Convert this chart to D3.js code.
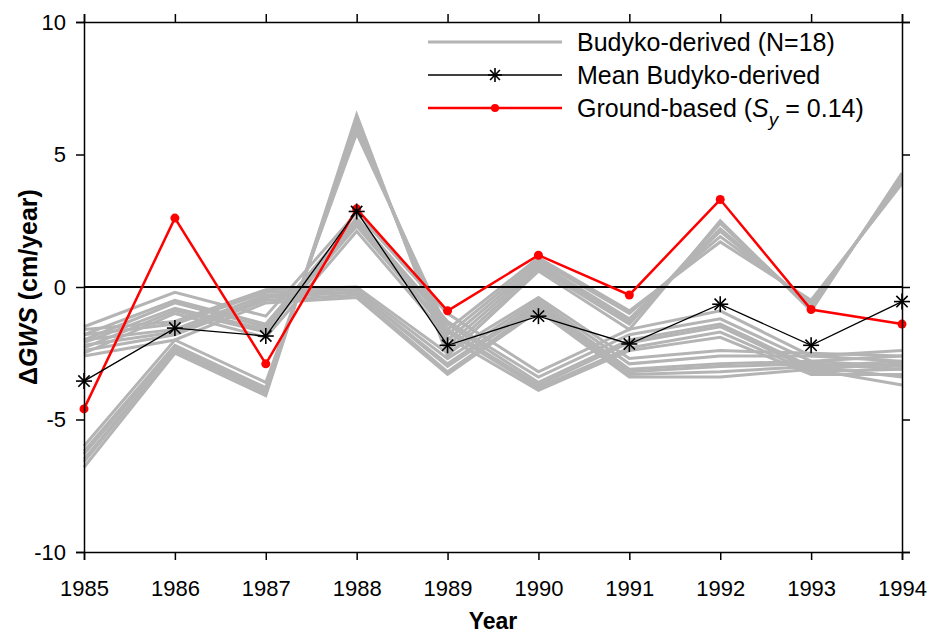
<!DOCTYPE html>
<html>
<head>
<meta charset="utf-8">
<script src="https://cdn.jsdelivr.net/npm/d3@7"></script>
<style>
  html, body { margin: 0; padding: 0; background: #fff; }
  svg { display: block; font-family: "Liberation Sans", Arial, sans-serif; }
</style>
</head>
<body>
<svg id="chart" width="931" height="637"></svg>
<script>
// Years on the x axis
const years = [1985, 1986, 1987, 1988, 1989, 1990, 1991, 1992, 1993, 1994];

// Budyko-derived groundwater storage change, one array per parameter set (cm/year)
const budyko01 = [-6.8, -2.5, -4.1, 6.5, -2.6, 0.6, -1.6, 2.5, -0.9, 4.3];
const budyko02 = [-6.6, -2.4, -4.0, 6.3, -2.4, 0.7, -1.4, 2.4, -0.8, 4.2];
const budyko03 = [-6.5, -2.4, -3.9, 6.2, -2.2, 0.8, -1.3, 2.2, -0.7, 4.1];
const budyko04 = [-6.3, -2.3, -3.9, 6.1, -2.0, 0.9, -1.2, 2.1, -0.7, 4.1];
const budyko05 = [-6.2, -2.2, -3.8, 6.0, -1.8, 1.0, -1.0, 1.9, -0.6, 4.0];
const budyko06 = [-6.0, -2.0, -3.6, 5.8, -1.6, 1.1, -0.9, 1.7, -0.5, 3.9];
const budyko07 = [-1.5, -0.2, -1.1, 2.8, -1.0, -3.2, -1.6, -0.9, -2.6, -2.4];
const budyko08 = [-1.8, -0.5, -1.4, 2.6, -1.3, -3.4, -1.8, -1.2, -2.8, -2.6];
const budyko09 = [-2.0, -0.6, -1.5, 2.5, -1.4, -3.6, -2.0, -1.4, -3.0, -2.8];
const budyko10 = [-2.1, -0.8, -1.6, 2.4, -1.6, -3.7, -2.1, -1.5, -3.1, -2.9];
const budyko11 = [-2.3, -0.9, -1.7, 2.3, -1.7, -3.8, -2.3, -1.7, -3.2, -3.1];
const budyko12 = [-2.5, -1.0, -1.9, 2.1, -1.9, -3.9, -2.4, -1.9, -3.3, -3.3];
const budyko13 = [-1.6, -1.3, -0.1, 0.0, -2.5, -0.4, -2.7, -2.4, -2.5, -2.6];
const budyko14 = [-1.8, -1.4, -0.2, -0.1, -2.7, -0.5, -2.9, -2.6, -2.6, -2.8];
const budyko15 = [-2.0, -1.6, -0.3, -0.2, -2.9, -0.6, -3.1, -2.9, -2.8, -3.0];
const budyko16 = [-2.2, -1.7, -0.4, -0.2, -3.0, -0.7, -3.2, -3.0, -2.9, -3.1];
const budyko17 = [-2.4, -1.8, -0.5, -0.3, -3.2, -0.8, -3.3, -3.2, -3.0, -3.4];
const budyko18 = [-2.6, -2.0, -0.6, -0.4, -3.3, -0.9, -3.4, -3.4, -3.1, -3.7];

// Mean of the Budyko-derived estimates
const meanBudyko = [-3.55, -1.55, -1.85, 2.85, -2.2, -1.1, -2.15, -0.65, -2.2, -0.55];

// Ground-based estimate (specific yield 0.14)
const groundBased = [-4.6, 2.6, -2.9, 2.95, -0.9, 1.2, -0.3, 3.3, -0.85, -1.4];

// Axis ticks
const yTicks = [-10, -5, 0, 5, 10];

const budykoSeries = [budyko01, budyko02, budyko03, budyko04, budyko05, budyko06,
                      budyko07, budyko08, budyko09, budyko10, budyko11, budyko12,
                      budyko13, budyko14, budyko15, budyko16, budyko17, budyko18];

const svg = d3.select("#chart");
const margin = { left: 84, right: 29, top: 22, bottom: 85 };
const W = 931, H = 637;
const innerW = W - margin.left - margin.right;
const innerH = H - margin.top - margin.bottom;

const x = d3.scaleLinear().domain([1985, 1994]).range([margin.left, margin.left + innerW]);
const y = d3.scaleLinear().domain([-10, 10]).range([margin.top + innerH, margin.top]);

const line = d3.line().x((d, i) => x(years[i])).y(d => y(d));

const plot = svg.append("g");

// Individual Budyko-derived series
plot.selectAll("path.budyko")
  .data(budykoSeries)
  .join("path")
  .attr("class", "budyko")
  .attr("d", line)
  .attr("fill", "none")
  .attr("stroke", "#b4b4b4")
  .attr("stroke-width", 3)
  .attr("stroke-linejoin", "miter");

// Zero reference line
plot.append("line")
  .attr("x1", x(1985)).attr("x2", x(1994))
  .attr("y1", y(0)).attr("y2", y(0))
  .attr("stroke", "#000").attr("stroke-width", 2);

// Ground-based series
plot.append("path")
  .attr("d", line(groundBased))
  .attr("fill", "none")
  .attr("stroke", "#ff0000")
  .attr("stroke-width", 2.5);
plot.selectAll("circle.ground")
  .data(groundBased)
  .join("circle")
  .attr("class", "ground")
  .attr("cx", (d, i) => x(years[i]))
  .attr("cy", d => y(d))
  .attr("r", 4.5)
  .attr("fill", "#ff0000");

// Mean Budyko-derived series with asterisk markers
plot.append("path")
  .attr("d", line(meanBudyko))
  .attr("fill", "none")
  .attr("stroke", "#000")
  .attr("stroke-width", 1.3);

function asterisk(g, cx, cy, r) {
  const a = g.append("g").attr("transform", `translate(${cx},${cy})`);
  const angles = [0, 45, 90, 135];
  angles.forEach(deg => {
    const rad = deg * Math.PI / 180;
    a.append("line")
      .attr("x1", -r * Math.cos(rad)).attr("y1", -r * Math.sin(rad))
      .attr("x2", r * Math.cos(rad)).attr("y2", r * Math.sin(rad))
      .attr("stroke", "#000").attr("stroke-width", 1.6);
  });
}
meanBudyko.forEach((d, i) => asterisk(plot, x(years[i]), y(d), 8));

// Frame and axes (ticks outward on all four sides)
const tickLen = 8;

const axisBottomG = svg.append("g")
  .attr("transform", `translate(0,${y(-10)})`)
  .call(d3.axisBottom(x).tickValues(years).tickFormat(d3.format("d")).tickSize(tickLen).tickPadding(20));
const axisTopG = svg.append("g")
  .attr("transform", `translate(0,${y(10)})`)
  .call(d3.axisTop(x).tickValues(years).tickFormat("").tickSize(tickLen));
const axisLeftG = svg.append("g")
  .attr("transform", `translate(${x(1985)},0)`)
  .call(d3.axisLeft(y).tickValues(yTicks).tickSize(tickLen).tickPadding(10));
const axisRightG = svg.append("g")
  .attr("transform", `translate(${x(1994)},0)`)
  .call(d3.axisRight(y).tickValues(yTicks).tickFormat("").tickSize(tickLen));

[axisBottomG, axisTopG, axisLeftG, axisRightG].forEach(g => {
  g.select(".domain").attr("stroke", "#000").attr("stroke-width", 1.5);
  g.selectAll(".tick line").attr("stroke", "#000").attr("stroke-width", 1.5);
  g.selectAll(".tick text")
    .attr("font-family", "'Liberation Sans', Arial, sans-serif")
    .attr("font-size", 22)
    .attr("fill", "#000");
});
axisLeftG.selectAll(".tick text").text(d => d < 0 ? "-" + Math.abs(d) : d);

// Axis titles
svg.append("text")
  .attr("x", (x(1985) + x(1994)) / 2)
  .attr("y", 629)
  .attr("text-anchor", "middle")
  .attr("font-size", 23)
  .attr("font-weight", "bold")
  .text("Year");

const yTitle = svg.append("text")
  .attr("transform", `translate(37,${y(0)}) rotate(-90)`)
  .attr("text-anchor", "middle")
  .attr("font-size", 25)
  .attr("font-weight", "bold");
yTitle.append("tspan").text("Δ");
yTitle.append("tspan").attr("font-style", "italic").text("GWS");
yTitle.append("tspan").text(" (cm/year)");

// Legend
const legend = svg.append("g");
const lx1 = 428, lx2 = 562, ltx = 577;
const rows = [42, 75, 108];

legend.append("line").attr("x1", lx1).attr("x2", lx2).attr("y1", rows[0]).attr("y2", rows[0])
  .attr("stroke", "#b4b4b4").attr("stroke-width", 3);
legend.append("line").attr("x1", lx1).attr("x2", lx2).attr("y1", rows[1]).attr("y2", rows[1])
  .attr("stroke", "#000").attr("stroke-width", 1.3);
asterisk(legend, (lx1 + lx2) / 2, rows[1], 7);
legend.append("line").attr("x1", lx1).attr("x2", lx2).attr("y1", rows[2]).attr("y2", rows[2])
  .attr("stroke", "#ff0000").attr("stroke-width", 2.5);
legend.append("circle").attr("cx", (lx1 + lx2) / 2).attr("cy", rows[2]).attr("r", 4).attr("fill", "#ff0000");

const labelStyle = t => t.attr("font-size", 25).attr("dominant-baseline", "central").attr("fill", "#000");
labelStyle(legend.append("text").attr("x", ltx).attr("y", rows[0])).text("Budyko-derived (N=18)");
labelStyle(legend.append("text").attr("x", ltx).attr("y", rows[1])).text("Mean Budyko-derived");
const gl = labelStyle(legend.append("text").attr("x", ltx).attr("y", rows[2]));
gl.append("tspan").text("Ground-based (");
gl.append("tspan").attr("font-style", "italic").text("S");
gl.append("tspan").attr("font-style", "italic").attr("font-size", 19).attr("dy", 11).text("y");
gl.append("tspan").attr("dy", -11).text("  = 0.14)");
</script>
</body>
</html>
